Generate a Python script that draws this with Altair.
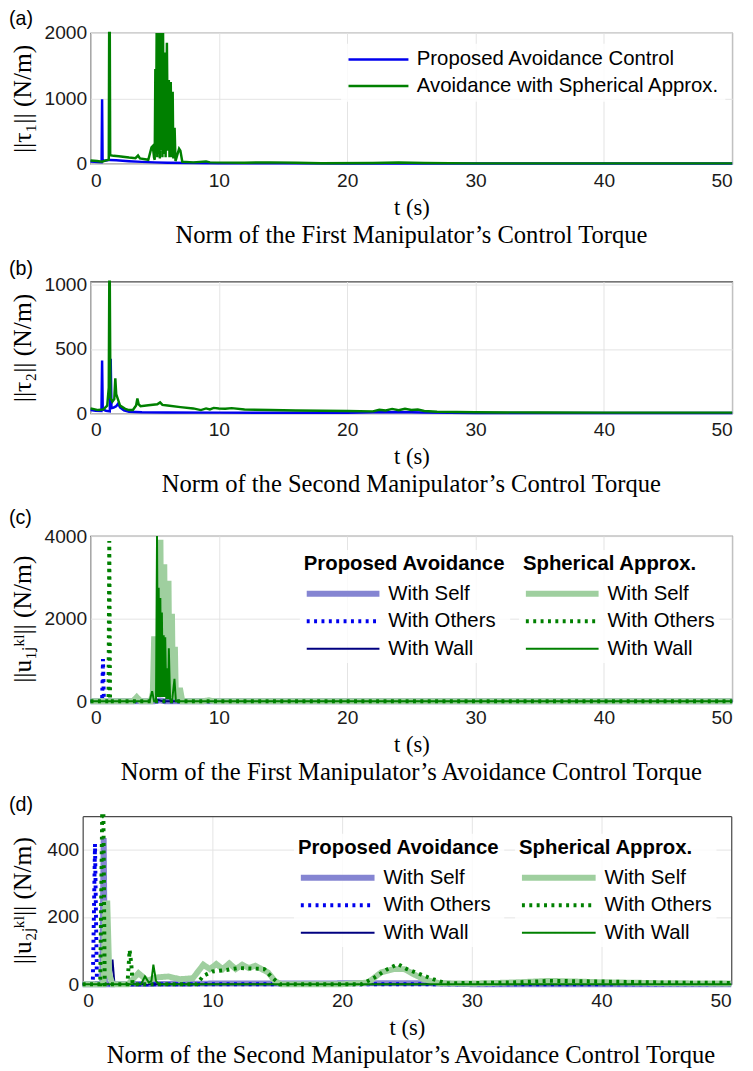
import altair as alt
import pandas as pd

# ---------------- data (t [s], value [N/m]) ----------------
# (a) first manipulator control torque
a_prop = [(0, 35), (0.3, 30), (0.6, 25), (0.86, 22), (0.9, 985), (0.94, 40), (1.2, 50), (1.5, 58),
          (2.0, 52), (2.5, 45), (3.0, 38), (4.0, 28), (5.0, 20), (6.0, 15), (8.0, 10), (10, 6),
          (15, 5), (20, 4), (30, 3), (40, 3), (50, 3)]
a_sph = [(0, 50), (0.5, 40), (0.9, 30), (1.2, 50), (1.42, 60), (1.45, 2200), (1.5, 2200), (1.53, 130),
         (1.8, 120), (2.2, 115), (3.0, 95), (3.5, 85), (3.7, 125), (3.85, 80), (4.5, 60), (4.75, 250),
         (4.85, 270), (4.95, 90), (5.0, 60), (5.05, 1450), (5.1, 200), (5.15, 2200), (5.2, 100),
         (5.25, 2200), (5.3, 150), (5.35, 2200), (5.4, 80), (5.45, 2200), (5.5, 200), (5.55, 2200),
         (5.6, 100), (5.65, 2100), (5.7, 150), (5.78, 1700), (5.85, 100), (5.95, 1850), (6.02, 200),
         (6.1, 1280), (6.15, 100), (6.25, 1250), (6.32, 100), (6.4, 1100), (6.45, 80), (6.55, 550),
         (6.62, 40), (6.9, 230), (7.0, 200), (7.15, 30), (8.0, 20), (9.0, 35), (9.3, 20), (12, 15),
         (14, 20), (16, 15), (18, 8), (22, 12), (24, 18), (26, 10), (30, 5), (40, 5), (50, 5)]

# (b) second manipulator control torque
b_prop = [(0, 25), (0.4, 20), (0.85, 18), (0.9, 410), (0.95, 30), (1.2, 20), (1.5, 15), (1.57, 425),
          (1.63, 40), (1.8, 45), (2.0, 55), (2.15, 75), (2.3, 45), (2.6, 22), (3.0, 12), (4.0, 8),
          (6, 6), (10, 5), (20, 4), (22, 8), (24, 10), (26, 6), (30, 3), (50, 3)]
b_sph = [(0, 38), (0.6, 25), (1.0, 30), (1.3, 60), (1.42, 200), (1.46, 1100), (1.5, 1100), (1.55, 120),
         (1.7, 90), (1.85, 110), (1.93, 273), (2.0, 150), (2.3, 60), (2.7, 35), (3.0, 25), (3.3, 25),
         (3.55, 60), (3.65, 115), (3.75, 70), (3.9, 55), (4.5, 63), (5.2, 70), (5.42, 85), (5.6, 65),
         (6.0, 60), (7.0, 48), (8.0, 38), (8.6, 25), (9.0, 38), (9.3, 30), (9.6, 42), (10.0, 38),
         (10.5, 35), (11, 40), (12, 30), (14, 25), (16, 22), (18, 20), (20, 18), (22, 15), (22.5, 28),
         (23, 22), (23.5, 34), (24, 24), (24.5, 35), (25, 25), (25.5, 30), (26, 18), (27, 12), (30, 8),
         (35, 6), (40, 5), (50, 5)]

# (c) first manipulator avoidance torque
c_prop_self = [(0, 0), (5.0, 0), (5.4, 20), (5.8, 0), (50, 0)]
c_prop_others = [(0, 0), (0.9, 0), (0.97, 1020), (1.04, 0), (50, 0)]
c_prop_wall = [(0, 0), (5.0, 0), (5.3, 30), (5.6, 0), (50, 0)]
c_sph_self = [(0, 0), (3.3, 0), (3.6, 100), (3.9, 0), (4.7, 0), (4.85, 200), (4.95, 1500), (5.08, 1500),
              (5.15, 150), (5.3, 300), (5.38, 3840), (5.45, 3840), (5.52, 200), (5.62, 3250), (5.75, 3250),
              (5.82, 150), (5.95, 2850), (6.08, 2850), (6.15, 100), (6.25, 2050), (6.35, 2050), (6.42, 100),
              (6.5, 1250), (6.58, 1250), (6.65, 50), (6.8, 260), (7.0, 260), (7.15, 0), (8.8, 0),
              (9.2, 25), (9.6, 0), (50, 0)]
c_sph_others = [(0, 0), (1.4, 0), (1.46, 3880), (1.52, 0), (50, 0)]
c_sph_wall = [(0, 0), (4.6, 0), (4.8, 240), (4.95, 0), (5.1, 0), (5.18, 4000), (5.25, 100), (5.31, 2750),
              (5.37, 100), (5.44, 2500), (5.5, 100), (5.56, 2150), (5.63, 100), (5.7, 1600), (5.76, 100),
              (5.82, 1550), (5.9, 50), (6.0, 800), (6.05, 50), (6.1, 1280), (6.2, 50), (6.35, 0),
              (6.54, 540), (6.65, 0), (50, 0)]

# (d) second manipulator avoidance torque
d_prop_self = [(0, 0), (1.5, 0), (1.62, 435), (1.72, 0), (2.0, 0), (10, 2), (15, 2), (22, 3), (26, 3),
               (30, 0), (50, 0)]
d_prop_others = [(0, 0), (0.78, 0), (0.95, 417), (1.1, 0), (50, 0)]
d_prop_wall = [(0, 0), (2.1, 0), (2.3, 73), (2.45, 0), (50, 0)]
d_sph_self = [(0, 0), (1.6, 0), (1.75, 240), (1.9, 240), (2.05, 30), (2.3, 0), (3.5, 0), (4.3, 33),
              (5.0, 10), (5.6, 20), (6.6, 23), (7.5, 15), (8.5, 18), (9.3, 58), (9.8, 45), (10.3, 60),
              (10.8, 45), (11.3, 62), (11.8, 45), (12.3, 58), (12.8, 48), (13.3, 55), (13.8, 45),
              (14.3, 35), (14.8, 10), (15.3, 0), (20, 0), (22, 5), (23, 35), (24, 45), (24.8, 45),
              (25.5, 30), (26.3, 15), (27.5, 3), (30, 2), (33, 5), (36, 10), (40, 6), (45, 3), (50, 2)]
d_sph_others = [(0, 0), (1.35, 0), (1.5, 550), (1.6, 550), (1.7, 0), (3.45, 0), (3.62, 102), (3.75, 60),
                (3.85, 0), (8.8, 0), (9.3, 25), (10, 38), (11, 42), (12, 48), (13, 47), (14, 45),
                (14.6, 20), (15.2, 0), (21.5, 0), (22.5, 20), (23.5, 45), (24.3, 60), (25, 45), (26, 30),
                (27, 15), (28, 3), (33, 5), (36, 10), (40, 8), (45, 5), (50, 4)]
d_sph_wall = [(0, 0), (4.5, 0), (4.8, 23), (5.1, 5), (5.3, 10), (5.45, 58), (5.65, 10), (5.85, 0), (50, 0)]

X_TICKS = [0, 10, 20, 30, 40, 50]
SIMPLE_NAMES = ["Proposed Avoidance Control", "Avoidance with Spherical Approx."]
GROUP_NAMES = ["With Self", "With Others", "With Wall"]

# ---------------- styling ----------------
SANS = "Liberation Sans"
SERIF = "Liberation Serif"
BLUE = "#0000ee"
GREEN = "#008000"
NAVY = "#000080"
LBLUE = "#8585d2"
LGREEN = "#9fcf9f"
BOX = "#4a4a4a"
LEG_FILL = "rgba(255,255,255,0.82)"
LEG_FS = 20.7


def to_df(items):
    rows = []
    for name, pts in items:
        for t, v in pts:
            rows.append({"series": name, "t": t, "v": v})
    return pd.DataFrame(rows)


def main_x_axis(**kw):
    return alt.Axis(values=X_TICKS, title="t (s)", format="d", titleFontSize=23, **kw)


def main_y_axis(ticks, title, tx, h, **kw):
    return alt.Axis(values=ticks, title=title, format="d", titleX=tx, titleY=h / 2,
                    titleAngle=270, titleAlign="center", titleBaseline="middle",
                    titleFontSize=26, **kw)


def frame_axis():
    # plain border line only (used for the top / right sides of the shifted panel)
    return alt.Axis(labels=False, ticks=False, grid=False, title="", domain=True,
                    domainColor=BOX, domainWidth=1.2)


def x_scale(shift=0, w=0):
    if shift:
        return alt.Scale(domain=[0, 50], nice=False, zero=False, range=[-shift, w])
    return alt.Scale(domain=[0, 50], nice=False, zero=False)


def y_scale(domain):
    return alt.Scale(domain=domain, nice=False, clamp=True)


def tag(label, dx, dy):
    return alt.Chart(pd.DataFrame({"tag": [label]})).mark_text(
        align="left", baseline="middle", font=SANS, fontSize=20, color="black"
    ).encode(x=alt.value(dx), y=alt.value(dy), text="tag:N")


def bottom_title(text):
    return alt.TitleParams(text=text, orient="bottom", anchor="middle", font=SERIF, fontSize=25,
                           fontWeight="normal", color="black", offset=4)


def simple_panel(prop, sph, ydom, yticks, ytitle, tx, w, h, tag_lbl, tag_dx, tag_dy, lx, ly, title):
    df = to_df([(SIMPLE_NAMES[0], prop), (SIMPLE_NAMES[1], sph)])
    leg = alt.Legend(title=None, orient="none", legendX=lx, legendY=ly, symbolType="stroke",
                     symbolSize=3721, symbolStrokeWidth=2.5, clipHeight=20, rowPadding=6,
                     labelFont=SANS, labelFontSize=LEG_FS, labelColor="black", labelLimit=600,
                     labelOffset=7, padding=6, fillColor=LEG_FILL)
    lines = alt.Chart(df).mark_line(strokeWidth=2.5).encode(
        x=alt.X("t:Q", scale=x_scale(), axis=main_x_axis()),
        y=alt.Y("v:Q", scale=y_scale(ydom), axis=main_y_axis(yticks, ytitle, tx, h)),
        color=alt.Color("series:N", scale=alt.Scale(domain=SIMPLE_NAMES, range=[BLUE, GREEN]), legend=leg),
    )
    return alt.layer(lines, tag(tag_lbl, tag_dx, tag_dy)).properties(
        width=w, height=h, title=bottom_title(title))


def group_layer(items, xsc, xax, ysc, yax, head, colors, lx, ly, symsize):
    df = to_df(list(zip(GROUP_NAMES, items)))
    leg = alt.Legend(title=head, orient="none", legendX=lx, legendY=ly, symbolType="stroke",
                     symbolSize=symsize, clipHeight=20, rowPadding=7, titlePadding=10,
                     titleFont=SANS, titleFontSize=LEG_FS, titleFontWeight="bold", titleColor="black",
                     titleLimit=600, labelFont=SANS, labelFontSize=LEG_FS, labelColor="black",
                     labelLimit=600, labelOffset=6, padding=4, fillColor=LEG_FILL)
    return alt.Chart(df).mark_line().encode(
        x=alt.X("t:Q", scale=xsc, axis=xax),
        y=alt.Y("v:Q", scale=ysc, axis=yax),
        color=alt.Color("series:N", scale=alt.Scale(domain=GROUP_NAMES, range=colors), legend=leg),
        strokeDash=alt.StrokeDash("series:N", scale=alt.Scale(domain=GROUP_NAMES,
                                  range=[[1, 0], [3, 4.5], [1, 0]]), legend=leg),
        strokeWidth=alt.StrokeWidth("series:N", scale=alt.Scale(type="point", domain=GROUP_NAMES,
                                    range=[6, 2], padding=0), legend=leg),
    )


def group_panel(prop_items, sph_items, ydom, yticks, ytitle, tx, w, h, tag_lbl, tag_dx, tag_dy,
                lxp, lxs, ly, symsize, title, shift=0):
    xsc = x_scale(shift, w)
    ysc = y_scale(ydom)
    if shift:
        # the plot area of this panel starts `shift` px left of the shared column origin
        xp = main_x_axis(domain=True, domainColor=BOX, domainWidth=1.2)
        yp = main_y_axis(yticks, ytitle, tx, h, offset=shift, domain=True, domainColor=BOX,
                         domainWidth=1.2)
        xs, ys = frame_axis(), frame_axis()
    else:
        xp = main_x_axis()
        yp = main_y_axis(yticks, ytitle, tx, h)
        xs, ys = xp, yp
    p = group_layer(prop_items, xsc, xp, ysc, yp, "Proposed Avoidance",
                    [LBLUE, BLUE, NAVY], lxp, ly, symsize)
    s = group_layer(sph_items, xsc, xs, ysc, ys, "Spherical Approx.",
                    [LGREEN, GREEN, GREEN], lxs, ly, symsize)
    layer = alt.layer(p, s, tag(tag_lbl, tag_dx, tag_dy)).resolve_scale(
        color="independent", strokeDash="independent", strokeWidth="independent"
    )
    if shift:
        layer = layer.resolve_axis(x="independent", y="independent").properties(
            view=alt.ViewBackground(strokeOpacity=0))
    return layer.properties(width=w, height=h, title=bottom_title(title))


pa = simple_panel(a_prop, a_sph, [0, 2000], [0, 1000, 2000], "||τ₁|| (N/m)", -69, 653, 133,
                  "(a)", -83, -14, 255, 11, "Norm of the First Manipulator’s Control Torque")
pb = simple_panel(b_prop, b_sph, [0, 1025], [0, 500, 1000], "||τ₂|| (N/m)", -69, 653, 134,
                  "(b)", -83, -13, 255, 12, "Norm of the Second Manipulator’s Control Torque")
pc = group_panel([c_prop_self, c_prop_others, c_prop_wall], [c_sph_self, c_sph_others, c_sph_wall],
                 [0, 4000], [0, 2000, 4000], "||u₁ⱼᵏˡ|| (N/m)", -69, 653, 168, "(c)", -83, -18,
                 213, 436, 14, 5476, "Norm of the First Manipulator’s Avoidance Control Torque")
pd_ = group_panel([d_prop_self, d_prop_others, d_prop_wall], [d_sph_self, d_sph_others, d_sph_wall],
                  [0, 500], [0, 200, 400], "||u₂ⱼᵏˡ|| (N/m)", -61, 652, 171, "(d)", -83, -11,
                  207, 432, 18, 5625, "Norm of the Second Manipulator’s Avoidance Control Torque",
                  shift=8)

chart = alt.concat(pa, pb, pc, pd_, columns=1, spacing=9, align="none").properties(
    padding={"left": 0, "top": -9, "right": 0, "bottom": 0}
).configure_view(
    stroke=BOX, strokeWidth=1.2
).configure_axis(
    labelFont=SANS, labelFontSize=19.5, labelColor="#1a1a1a", ticks=False, domain=False,
    grid=True, gridColor="#e3e3e3", gridWidth=1, titleFont=SERIF, titleFontSize=25,
    titleFontWeight="normal", titleColor="black"
).configure_axisX(labelPadding=8, titlePadding=7).configure_axisY(labelPadding=4)

chart.save("out.html", embed_options={"renderer": "svg", "actions": False})
